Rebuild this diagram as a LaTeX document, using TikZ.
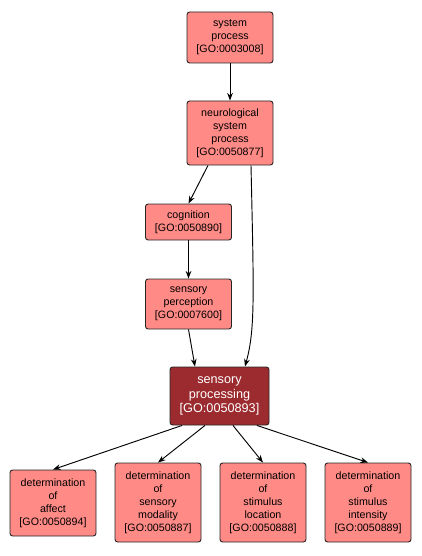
\documentclass[tikz,border=0pt]{standalone}
\usepackage{fontspec}
\setmainfont{Liberation Sans}
\usetikzlibrary{arrows.meta}
\definecolor{goterm}{HTML}{FF8A86}
\definecolor{gofocus}{HTML}{9C2B2F}

\begin{document}
\begin{tikzpicture}[x=0.75pt, y=-0.75pt, line width=0.7pt, every node/.style={font=\fontsize{8}{9.75}\selectfont}, >={Stealth[length=2mm]},
	term/.style={draw=black!85, fill=goterm, rounded corners=2pt, align=center, inner sep=1pt, minimum width=64.5pt},
	focus/.style={term, fill=gofocus, text=white, minimum width=74.25pt, font=\fontsize{9.5}{11}\selectfont}]
	\useasboundingbox (0,0) rectangle (421,556);
	% upper chain
	\node[term, minimum height=38.25pt] (sysproc) at (230,37.5) {system\\process\\{[GO:0003008]}};
	\node[term, minimum height=48pt] (neuro) at (230,133) {neurological\\system\\process\\{[GO:0050877]}};
	\node[term, minimum height=27pt] (cogn) at (188.5,222) {cognition\\{[GO:0050890]}};
	\node[term, minimum height=37.5pt] (sensperc) at (188.5,304) {sensory\\perception\\{[GO:0007600]}};
	\node[focus, minimum height=43.5pt] (sensproc) at (219.5,396) {sensory\\processing\\{[GO:0050893]}};
	% children
	\node[term, minimum height=49.5pt] (affect) at (53,503) {determination\\of\\affect\\{[GO:0050894]}};
	\node[term, minimum height=59.25pt] (modal) at (158,502.5) {determination\\of\\sensory\\modality\\{[GO:0050887]}};
	\node[term, minimum height=59.25pt] (locat) at (263,502.5) {determination\\of\\stimulus\\location\\{[GO:0050888]}};
	\node[term, minimum height=59.25pt] (intens) at (368,502.5) {determination\\of\\stimulus\\intensity\\{[GO:0050889]}};
	% edges
	\draw[->] (sysproc) -- (neuro);
	\draw[->] ([xshift=-16.5pt]neuro.south) -- (cogn.north);
	\draw[->] (cogn) -- (sensperc);
	\draw[->] (sensperc.south) -- ([xshift=-18.4pt]sensproc.north);
	\draw[->] ([xshift=15.75pt]neuro.south) .. controls (254,300) and (255,330) .. ([xshift=19.1pt]sensproc.north);
	\foreach \t/\dx in {affect/-28.1, modal/-10.9, locat/10.1, intens/28.1} {
		\draw[->] ([xshift=\dx pt]sensproc.south) -- (\t.north);
	}
\end{tikzpicture}
\end{document}
